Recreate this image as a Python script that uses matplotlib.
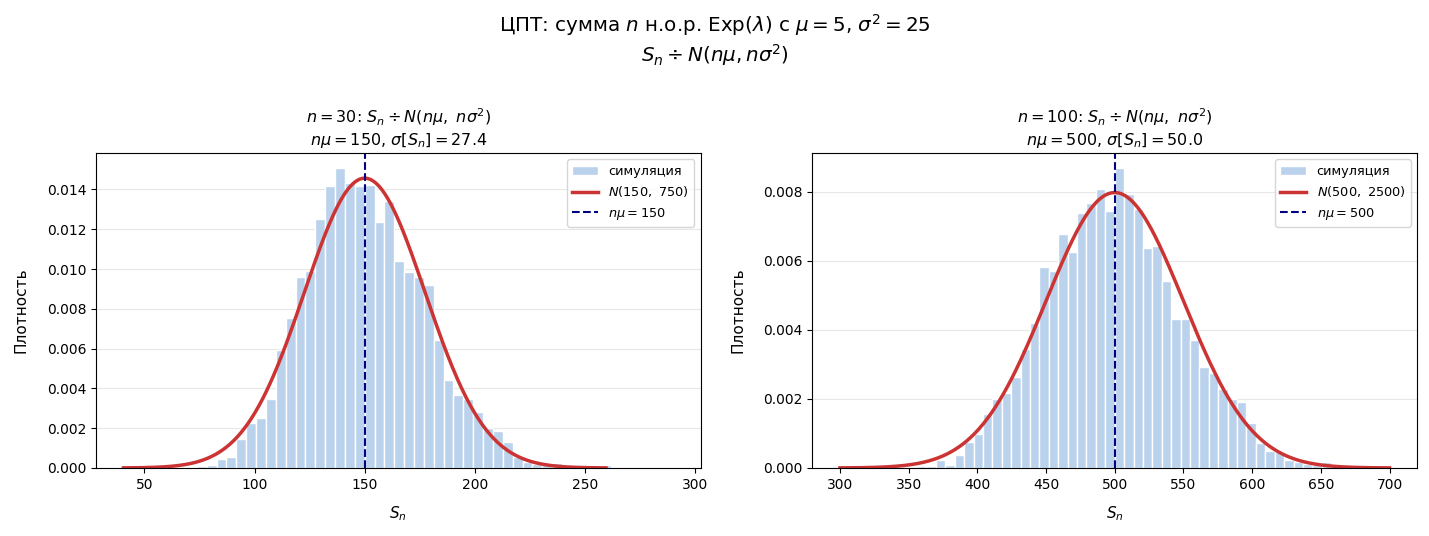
import numpy as np
import matplotlib.pyplot as plt

# параметры: Exp с mu=5, sigma^2=25
mu = 5
var = 25
ns = [30, 100]

# гистограммы (плотность)
left_start = 73.8
left_width = 4.48
left_density = [0.0001, 0.00017, 0.00047, 0.00054, 0.00148, 0.00225, 0.0025, 0.00346,
                0.00593, 0.00752, 0.0096, 0.00989, 0.01253, 0.01417, 0.01508, 0.01434,
                0.01417, 0.01422, 0.01236, 0.01342, 0.0104, 0.00987, 0.00959, 0.00919,
                0.00641, 0.0044, 0.00369, 0.00346, 0.00279, 0.0020, 0.00188, 0.00133,
                0.00054, 0.00032, 0.0002, 0.00018, 0.00027, 0.00015, 0.0001, 0.00017,
                0.0001, 0.00017]

right_start = 356.15
right_width = 6.85
right_density = [0.00005, 0.00006, 0.00022, 0.00009, 0.00038, 0.00075, 0.00099, 0.00156,
                 0.002, 0.00216, 0.00263, 0.00345, 0.0042, 0.00583, 0.0057, 0.00678,
                 0.00626, 0.00739, 0.00768, 0.00809, 0.00745,
                 0.00869, 0.00794, 0.0075, 0.00637, 0.00643, 0.00542, 0.00431, 0.00431,
                 0.00371, 0.00292, 0.00275, 0.0023, 0.002, 0.0019, 0.0013, 0.00072,
                 0.0005, 0.00045, 0.00022, 0.00018, 0.00012, 0.0001, 0.00018, 0.00007]

hists = [(left_start, left_width, left_density), (right_start, right_width, right_density)]

fig, axes = plt.subplots(1, 2, figsize=(14.29, 5.36), dpi=100)
fig.subplots_adjust(left=0.0672, right=0.9916, top=0.7146, bottom=0.1269, wspace=0.185)

for ax, n, (x0, w, dens) in zip(axes, ns, hists):
    m = n * mu
    v = n * var
    s = np.sqrt(v)
    dens = np.array(dens)
    edges = x0 + w * np.arange(len(dens))
    b = ax.bar(edges, dens, width=w, align='edge', color='#bad2ec',
               edgecolor='white', linewidth=1.0)
    xs = np.linspace(m - 4 * s, m + 4 * s, 400)
    pdf = np.exp(-(xs - m) ** 2 / (2 * v)) / np.sqrt(2 * np.pi * v)
    l1, = ax.plot(xs, pdf, color='#cc3333', lw=2.5)
    l2 = ax.axvline(m, color='navy', ls='--', lw=1.5)
    ax.set_title(r'$n=%d$: $S_n \div N(n\mu,\ n\sigma^2)$' % n + '\n'
                 + r'$n\mu=%d$, $\sigma[S_n]=%.1f$' % (m, s), fontsize=11.5)
    ax.set_xlabel(r'$S_n$', fontsize=11, labelpad=9)
    ax.set_ylabel('Плотность', fontsize=11, labelpad=13)
    ax.grid(axis='y', alpha=0.3)
    ax.set_axisbelow(True)
    ax.legend([b, l1, l2], ['симуляция', r'$N(%d,\ %d)$' % (m, v), r'$n\mu=%d$' % m],
              loc='upper right', fontsize=9.3)
    ax.tick_params(labelsize=10)

axes[0].set_xlim(28, 302.5)

fig.suptitle('ЦПТ: сумма $n$ н.о.р. Exp($\\lambda$) с $\\mu=5$, $\\sigma^2=25$\n'
             r'$S_n \div N(n\mu, n\sigma^2)$', fontsize=14.3, y=0.978)

plt.savefig('out.png', dpi=100)
